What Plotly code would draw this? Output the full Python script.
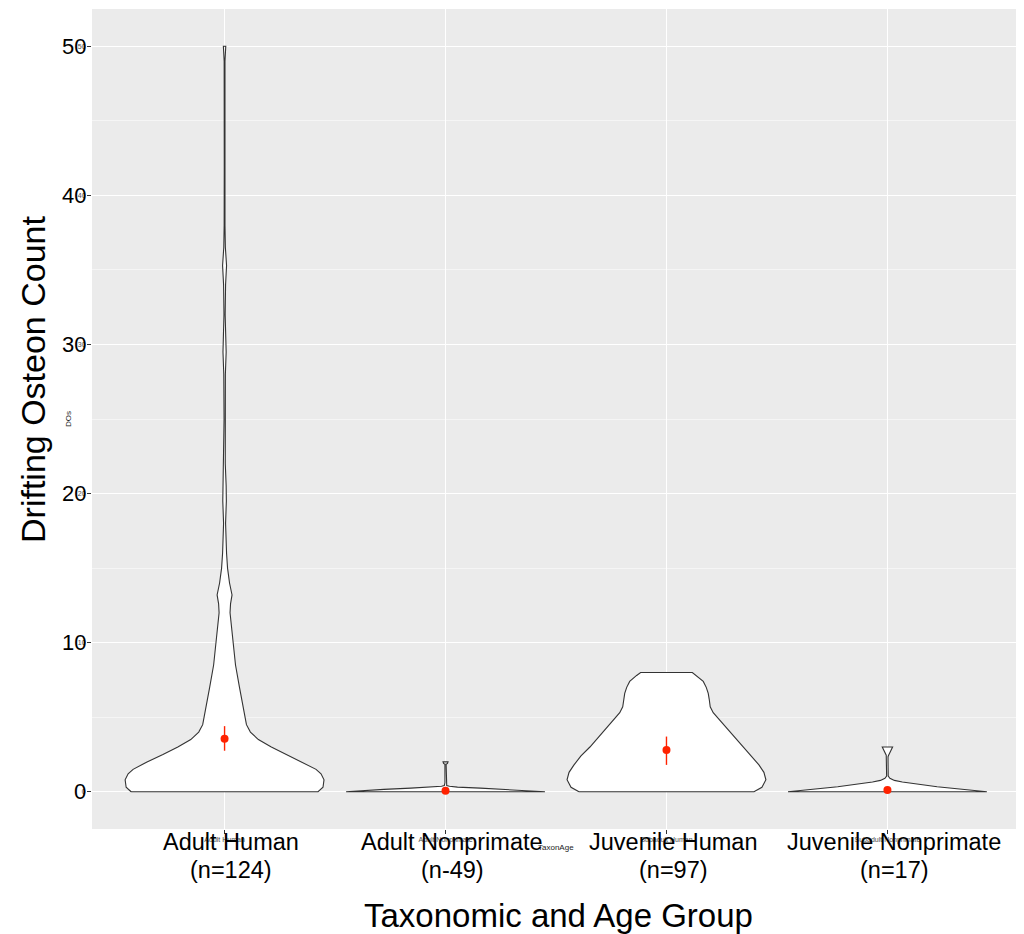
import plotly.graph_objects as go

# ---------------- data ----------------
groups = ["Adult Human", "Adult Nonprimate", "Juvenile Human", "Juvenile Nonprimate"]
big_line1 = ["Adult Human", "Adult Nonprimate", "Juvenile Human", "Juvenile Nonprimate"]
big_line2 = ["(n=124)", "(n-49)", "(n=97)", "(n=17)"]
small_labels = ["Adult Human", "Adult Nonprimate", "Subadult Human", "Subadult Nonprimate"]

y_ticks = [0, 10, 20, 30, 40, 50]
y_tick_text = ["0", "10", "20", "30", "40", "50"]

# violin density profiles: count levels and relative half-widths (1 = widest)
ah_y = [0, 0.3, 0.8, 1.2, 1.5, 2.0, 2.5, 3.0, 3.5, 4.0, 4.5, 5.5, 7.0, 8.5, 10, 11, 12, 12.6, 13.2,
        14.0, 15.0, 16, 17, 18, 19.5, 20.5, 22, 25, 28, 29.5, 30.5, 32, 34, 35.3, 36.5, 38, 42, 46, 49, 50]
ah_w = [0.94, 0.99, 1.0, 0.97, 0.92, 0.78, 0.62, 0.47, 0.34, 0.26, 0.22, 0.19, 0.15, 0.11, 0.085, 0.07,
        0.055, 0.06, 0.075, 0.05, 0.03, 0.02, 0.012, 0.01, 0.018, 0.016, 0.007, 0.005, 0.008, 0.016,
        0.012, 0.006, 0.01, 0.02, 0.008, 0.004, 0.003, 0.003, 0.004, 0.012]

an_y = [0, 0.08, 0.16, 0.24, 0.31, 0.37, 0.42, 0.6, 1.0, 1.5, 1.85, 1.9, 2.0]
an_w = [1.0, 0.82, 0.62, 0.35, 0.12, 0.04, 0.012, 0.006, 0.006, 0.006, 0.006, 0.02, 0.025]

jh_y = [0, 0.3, 0.8, 1.3, 1.8, 2.4, 3.0, 3.7, 4.3, 4.85, 5.3, 5.7, 6.2, 6.6, 7.0, 7.4, 7.8, 8.0]
jh_w = [0.88, 0.96, 1.0, 0.98, 0.93, 0.86, 0.77, 0.68, 0.6, 0.53, 0.47, 0.44, 0.43, 0.42, 0.4,
        0.37, 0.3, 0.26]

jn_y = [0, 0.1, 0.2, 0.33, 0.5, 0.65, 0.76, 0.9, 1.05, 2.0, 2.35, 2.45, 3.0]
jn_w = [1.0, 0.87, 0.7, 0.5, 0.3, 0.15, 0.07, 0.025, 0.008, 0.006, 0.006, 0.012, 0.052]

profiles = [(ah_y, ah_w), (an_y, an_w), (jh_y, jh_w), (jn_y, jn_w)]

# mean and standard-error bars
means = [3.55, 0.06, 2.8, 0.12]
se_hi = [4.4, 0.12, 3.7, 0.25]
se_lo = [2.75, 0.0, 1.8, 0.0]

VIOLIN_HALF = 0.45  # half of the default 0.9 violin width

fig = go.Figure()

for i, (ys, ws) in enumerate(profiles):
    left = [i - w * VIOLIN_HALF for w in ws]
    right = [i + w * VIOLIN_HALF for w in ws]
    xs = left + right[::-1] + [left[0]]
    yy = list(ys) + list(ys)[::-1] + [ys[0]]
    fig.add_trace(go.Scatter(
        x=xs, y=yy, mode="lines", fill="toself", fillcolor="white",
        line=dict(color="#333333", width=1.1), hoverinfo="skip", showlegend=False))

fig.add_trace(go.Scatter(
    x=list(range(len(groups))), y=means, mode="markers",
    marker=dict(color="#FF2200", size=8),
    error_y=dict(type="data", symmetric=False,
                 array=[h - m for h, m in zip(se_hi, means)],
                 arrayminus=[m - l for m, l in zip(means, se_lo)],
                 color="#FF2200", thickness=1.4, width=0),
    showlegend=False))

FONT = "Liberation Sans, Arial, Helvetica, sans-serif"

# page body has an 8px margin, so the figure is sized to fit the 1024x934 window
fig.update_layout(
    width=1016, height=926,
    margin=dict(l=84, r=4, t=1, b=105),
    paper_bgcolor="white", plot_bgcolor="#EBEBEB",
    font=dict(family=FONT, color="black"),
    showlegend=False,
)

fig.update_xaxes(
    range=[-0.6, 3.6], tickmode="array",
    tickvals=list(range(len(groups))), ticktext=small_labels,
    tickfont=dict(size=7, color="#4d4d4d", family=FONT),
    ticks="outside", ticklen=4, tickcolor="#333333", tickwidth=1,
    showgrid=True, gridcolor="white", gridwidth=1.2, zeroline=False,
    showline=False, automargin=False,
    title=dict(text="", font=dict(size=8)),
)
fig.update_yaxes(
    range=[-2.5, 52.5], tickmode="array", tickvals=y_ticks, ticktext=y_tick_text,
    tickfont=dict(size=7, color="#4d4d4d", family=FONT),
    ticks="outside", ticklen=4, tickcolor="#333333", tickwidth=1,
    showgrid=True, gridcolor="white", gridwidth=1.2, zeroline=False,
    minor=dict(dtick=5, tick0=0, showgrid=True, gridcolor="#F5F5F5", gridwidth=0.6, ticks=""),
    showline=False, automargin=False,
    title=dict(text="", font=dict(size=8)),
)

annotations = []
# big overlay category labels (two lines)
for i, (t1, t2) in enumerate(zip(big_line1, big_line2)):
    annotations.append(dict(xref="x", yref="paper", x=i + 0.03, y=0, yshift=-13,
                            xanchor="center", yanchor="middle", text=t1, showarrow=False,
                            font=dict(size=23.5, color="black", family=FONT)))
    annotations.append(dict(xref="x", yref="paper", x=i + 0.03, y=0, yshift=-41,
                            xanchor="center", yanchor="middle", text=t2, showarrow=False,
                            font=dict(size=23.5, color="black", family=FONT)))
# big overlay value labels (y)
for v, t in zip(y_ticks, y_tick_text):
    annotations.append(dict(xref="paper", yref="y", x=0, y=v, xshift=-4, xanchor="right",
                            yanchor="middle", text=t, showarrow=False,
                            font=dict(size=22, color="black", family=FONT)))
# small original axis titles
annotations.append(dict(xref="paper", yref="paper", x=0, y=0.5, xshift=-24, textangle=-90,
                        text="DOs", showarrow=False, xanchor="center", yanchor="middle",
                        font=dict(size=8, color="#222222", family=FONT)))
annotations.append(dict(xref="paper", yref="paper", x=(556 - 92) / 928, y=0, yshift=-18,
                        text="TaxonAge", showarrow=False, xanchor="center", yanchor="middle",
                        font=dict(size=8, color="#222222", family=FONT)))
# big overlay axis titles
annotations.append(dict(xref="paper", yref="paper", x=0, y=(829 - 380) / 820, xshift=-59,
                        textangle=-90, text="Drifting Osteon Count", showarrow=False,
                        xanchor="center", yanchor="middle",
                        font=dict(size=34, color="black", family=FONT)))
annotations.append(dict(xref="paper", yref="paper", x=(558 - 92) / 928, y=0, yshift=-86,
                        text="Taxonomic and Age Group", showarrow=False,
                        xanchor="center", yanchor="middle",
                        font=dict(size=33, color="black", family=FONT)))
fig.update_layout(annotations=annotations)

fig.write_html("out.html")
